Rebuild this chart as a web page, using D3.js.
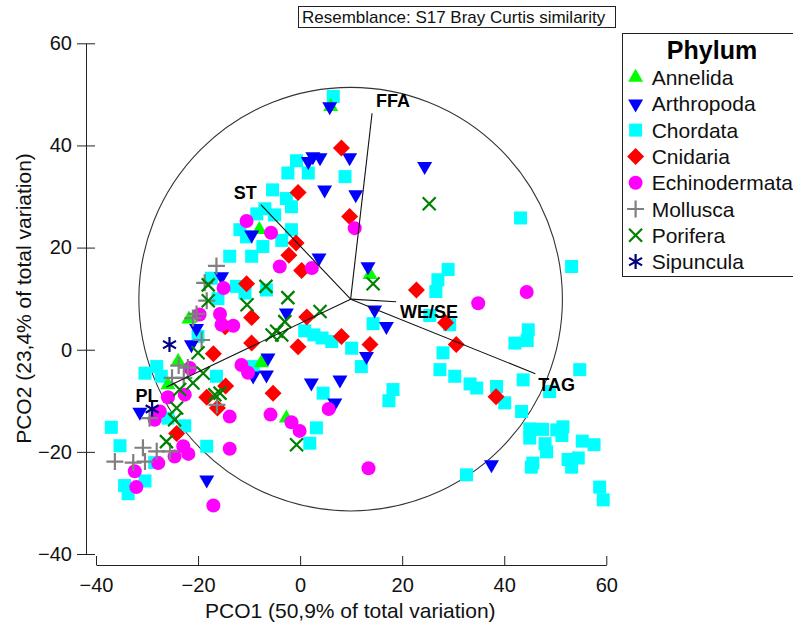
<!DOCTYPE html>
<html>
<head>
<meta charset="utf-8">
<script src="https://cdn.jsdelivr.net/npm/d3@7"></script>
<style>
  html, body { margin: 0; padding: 0; background: #fff; }
  svg { display: block; font-family: "Liberation Sans", Arial, sans-serif; }
</style>
</head>
<body>
<svg id="chart" width="793" height="626"></svg>
<script>
// ---------------- DATA ----------------
const titleText = "Resemblance: S17 Bray Curtis similarity";
const xTitle = "PCO1 (50,9% of total variation)";
const yTitle = "PCO2 (23,4% of total variation)";
const xTicks = [-40, -20, 0, 20, 40, 60];
const yTicks = [-40, -20, 0, 20, 40, 60];
const phyla = ["Annelida", "Arthropoda", "Chordata", "Cnidaria", "Echinodermata", "Mollusca", "Porifera", "Sipuncula"];

const annelida = [[6.0,47.6],[-8.0,23.5],[13.7,14.7],[-23.9,-2.3],[-7.6,-2.6],[-2.7,-13.4],[-25.9,-6.9],[-21.8,6.0]];
const arthropoda = [[5.8,47.6],[1.6,36.9],[2.5,37.8],[3.9,37.6],[9.7,37.6],[4.8,31.3],[10.9,30.4],[3.7,18.0],
  [13.3,16.3],[24.4,35.9],[14.6,7.8],[16.9,4.6],[-2.7,7.2],[13.0,-1.3],[-6.3,-1.6],[-6.6,-4.9],[2.2,-6.5],
  [7.8,-5.9],[6.8,-10.4],[37.5,-22.5],[-18.3,-25.5],[-31.4,-12.2],[-21.3,1.0],[-20.3,4.2],[-15.4,14.3],
  [-9.5,22.5],[-9.2,-5.1]];
const chordata = [[6.5,49.6],[-0.7,37.0],[-2.4,34.6],[1.6,34.6],[8.8,33.9],[-5.4,31.3],[-2.7,29.6],[-1.7,28.0],
  [-6.9,27.6],[-5.0,26.4],[-8.5,26.6],[-11.8,23.5],[-10.5,22.1],[-1.7,23.5],[-3.6,21.4],[-7.3,20.2],[-9.5,18.3],
  [-13.8,18.3],[-17.4,14.0],[-12.5,12.4],[-10.8,11.1],[-6.6,11.7],[-16.1,10.0],
  [0.9,3.7],[2.7,2.9],[4.3,2.3],[6.2,1.6],[10.1,0.3],[12.0,-3.3],[14.3,5.1],[4.5,-8.5],[3.2,-15.3],[1.9,-18.3],
  [18.2,-7.8],[17.4,-10.0],[-9.2,-3.3],[-16.4,-5.2],[-18.3,-18.9],[-22.6,-14.9],[-20.0,2.6],[-25.9,-13.4],
  [-30.4,-4.6],[-28.1,-3.3],[-27.2,-5.2],[-37.0,-15.2],[-35.3,-18.8],[-34.4,-26.6],[-33.7,-28.2],[-30.4,-25.7],[-28.5,-22.1],
  [43.2,25.8],[53.2,16.3],[29.0,15.7],[27.0,13.7],[26.6,11.4],[25.4,6.7],[29.3,4.9],[28.0,-0.6],[27.4,-3.9],
  [30.3,-5.2],[33.3,-6.7],[34.6,-7.5],[38.5,-7.2],[40.1,-10.4],[43.4,-12.1],[44.7,3.9],[42.1,1.3],[44.5,1.8],
  [43.7,-5.9],[54.8,-3.9],[48.9,-8.2],[45.0,-15.5],[47.5,-15.6],[45.0,-17.3],[48.0,-18.4],[50.3,-15.7],[51.5,-15.1],
  [51.3,-16.8],[48.3,-20.0],[45.6,-22.2],[45.3,-23.0],[52.5,-21.5],[54.5,-21.2],[53.2,-23.0],[55.3,-17.9],
  [57.6,-18.6],[58.7,-26.9],[59.4,-29.4],[32.6,-24.5]];
const cnidaria = [[8.1,39.5],[-0.4,30.8],[9.7,26.1],[-0.8,20.9],[-2.2,18.5],[0.3,15.5],[-10.5,12.9],[-9.5,6.3],
  [1.3,6.4],[-14.7,4.5],[-17.0,-0.8],[-9.5,1.3],[-0.4,0.6],[8.1,2.6],[13.7,1.0],[-5.3,-8.5],[-14.6,-7.1],
  [-18.3,-9.3],[-16.2,-11.4],[-24.2,-16.4],[22.8,11.7],[28.5,5.3],[30.6,1.0],[38.4,-9.2]];
const echinodermata = [[10.7,23.8],[-10.5,25.2],[-5.7,22.9],[-4.0,16.3],[2.3,16.0],[-15.0,12.1],[-15.7,7.0],
  [-19.7,6.9],[-13.1,4.7],[-15.4,4.9],[34.9,9.1],[44.4,11.3],[-11.5,-3.0],[-10.2,-4.5],[-21.6,-3.6],[-22.6,-8.8],
  [-25.9,-9.3],[-27.5,-12.1],[-28.5,-13.7],[-13.8,-13.1],[-13.8,-19.4],[-22.9,-18.9],[-21.9,-20.4],[-24.6,-20.9],
  [-27.8,-22.2],[-32.4,-23.8],[-32.1,-26.9],[-17.0,-30.5],[-5.8,-12.7],[-1.7,-14.2],[-0.1,-15.9],[5.6,-11.6],[13.4,-23.2]];
const mollusca = [[-16.4,16.4],[-18.7,13.1],[-18.3,9.6],[-20.3,7.0],[-21.0,6.2],[-19.3,1.9],[-23.8,-3.1],
  [-22.0,-3.5],[-25.1,-5.5],[-22.8,-5.5],[-16.3,-10.8],[-29.5,-13.4],[-30.8,-19.2],[-28.1,-19.9],[-25.5,-19.9],
  [-36.3,-21.9],[-32.7,-22.1],[-30.4,-21.9]];
const porifera = [[25.3,28.6],[14.3,12.9],[-18.0,12.7],[-6.7,12.4],[-2.4,10.2],[-18.0,9.6],[-10.4,8.8],[3.9,7.5],
  [-3.0,5.5],[-5.5,2.9],[-4.6,3.6],[-3.6,2.9],[-20.0,-0.6],[-19.0,-4.6],[-21.0,-6.5],[-23.6,-7.8],[-16.7,-8.8],
  [-15.7,-8.5],[-24.2,-11.4],[-24.6,-13.7],[-26.2,-18.0],[-0.7,-18.6]];
const sipuncula = [[-25.6,1.0],[-29.0,-11.6]];

const vectorNames = ["FFA", "ST", "WE/SE", "TAG", "PL"];
const vectorX = [14.1, -7.7, 18.8, 46.1, -26.2];
const vectorY = [46.3, 28.4, 9.4, -4.7, -7.3];
const circleCenter = [9.9, 9.9];
const circleRadius = 41.5;

// ---------------- STYLE ----------------
const colors = {
  Annelida: "#00ff00", Arthropoda: "#0000ff", Chordata: "#00ffff", Cnidaria: "#ff0000",
  Echinodermata: "#ff00ff", Mollusca: "#808080", Porifera: "#008000", Sipuncula: "#000080"
};
const shapes = {
  Annelida: "triUp", Arthropoda: "triDown", Chordata: "square", Cnidaria: "diamond",
  Echinodermata: "circle", Mollusca: "plus", Porifera: "cross", Sipuncula: "star"
};
const labelStyle = {
  "FFA": {dx: 4, dy: -6, anchor: "start"},
  "ST": {dx: -4, dy: -6, anchor: "end"},
  "WE/SE": {dx: 4, dy: 16, anchor: "start"},
  "TAG": {dx: 3, dy: 17, anchor: "start"},
  "PL": {dx: -8, dy: 15, anchor: "end"}
};

const svg = d3.select("#chart");
const x = d3.scaleLinear().domain([-40, 60]).range([96, 606.3]);
const y = d3.scaleLinear().domain([-40, 60]).range([554, 43.3]);

function symbolPath(shape) {
  switch (shape) {
    case "triUp": { const s = 15, h = 13; return `M0,${-h*2/3}L${s/2},${h/3}L${-s/2},${h/3}Z`; }
    case "triDown": { const s = 15, h = 13; return `M0,${h*2/3}L${s/2},${-h/3}L${-s/2},${-h/3}Z`; }
    case "square": { const s = 13; return `M${-s/2},${-s/2}h${s}v${s}h${-s}Z`; }
    case "diamond": { const r = 8.5; return `M0,${-r}L${r},0L0,${r}L${-r},0Z`; }
    case "circle": { const r = 7; return `M${r},0A${r},${r} 0 1,1 ${-r},0A${r},${r} 0 1,1 ${r},0Z`; }
    case "plus": { const r = 8.5; return `M${-r},0H${r}M0,${-r}V${r}`; }
    case "cross": { const r = 6.5; return `M${-r},${-r}L${r},${r}M${-r},${r}L${r},${-r}`; }
    case "star": { const r = 7.5, a = r*0.866, b = r*0.5; return `M0,${-r}V${r}M${-a},${-b}L${a},${b}M${-a},${b}L${a},${-b}`; }
  }
}
function isLine(shape) { return shape === "plus" || shape === "cross" || shape === "star"; }
function styleSym(sel, name) {
  const sh = shapes[name];
  sel.attr("d", symbolPath(sh));
  if (isLine(sh)) sel.attr("fill", "none").attr("stroke", colors[name]).attr("stroke-width", 2.2);
  else sel.attr("fill", colors[name]).attr("stroke", "none");
}

// ---------------- TITLE BOX ----------------
svg.append("rect").attr("x", 298.5).attr("y", 6.5).attr("width", 317).attr("height", 21)
  .attr("fill", "#fff").attr("stroke", "#222").attr("stroke-width", 1);
svg.append("text").attr("x", 302).attr("y", 23).attr("font-size", 17).attr("fill", "#111").text(titleText);

// ---------------- AXES ----------------
const yAxis = d3.axisLeft(y).tickValues(yTicks).tickSizeInner(9).tickSizeOuter(0).tickPadding(5).tickFormat(d3.format("d"));
const gy = svg.append("g").attr("transform", "translate(86,0)").call(yAxis);
gy.selectAll(".tick line").attr("x1", 9);
gy.selectAll("text").attr("font-size", 20).attr("font-family", "Liberation Sans, Arial, sans-serif").attr("fill", "#111");
gy.selectAll("path, line").attr("stroke", "#222");

const xAxis = d3.axisBottom(x).tickValues(xTicks).tickSizeInner(-9).tickSizeOuter(0).tickPadding(13).tickFormat(d3.format("d"));
const gx = svg.append("g").attr("transform", "translate(0,565)").call(xAxis);
gx.selectAll("text").attr("font-size", 20).attr("font-family", "Liberation Sans, Arial, sans-serif").attr("fill", "#111");
gx.selectAll("path, line").attr("stroke", "#222");

svg.append("text").attr("x", 350.3).attr("y", 618).attr("text-anchor", "middle")
  .attr("font-size", 21).attr("fill", "#111").text(xTitle);
svg.append("text").attr("transform", "translate(31,298.5) rotate(-90)").attr("text-anchor", "middle")
  .attr("font-size", 21).attr("fill", "#111").text(yTitle);

// ---------------- CIRCLE & VECTORS ----------------
const cx = x(circleCenter[0]), cy = y(circleCenter[1]);
const rPix = x(circleCenter[0] + circleRadius) - cx;
svg.append("circle").attr("cx", cx).attr("cy", cy).attr("r", rPix)
  .attr("fill", "none").attr("stroke", "#333").attr("stroke-width", 1.1);

// ---------------- POINTS ----------------
const seriesData = {
  Chordata: chordata, Annelida: annelida, Arthropoda: arthropoda, Cnidaria: cnidaria,
  Echinodermata: echinodermata, Mollusca: mollusca, Porifera: porifera, Sipuncula: sipuncula
};
const drawOrder = ["Chordata", "Annelida", "Arthropoda", "Cnidaria", "Echinodermata", "Mollusca", "Porifera", "Sipuncula"];
const gp = svg.append("g");
drawOrder.forEach(name => {
  gp.selectAll(null).data(seriesData[name]).enter().append("path")
    .attr("transform", d => `translate(${x(d[0])},${y(d[1])})`)
    .call(styleSym, name);
});

// vectors on top
const gv = svg.append("g");
vectorNames.forEach((n, i) => {
  const ex = x(vectorX[i]), ey = y(vectorY[i]);
  gv.append("line").attr("x1", cx).attr("y1", cy).attr("x2", ex).attr("y2", ey)
    .attr("stroke", "#111").attr("stroke-width", 1.1);
  const st = labelStyle[n];
  gv.append("text").attr("x", ex + st.dx).attr("y", ey + st.dy).attr("text-anchor", st.anchor)
    .attr("font-size", 18).attr("font-weight", "bold").attr("fill", "#000").text(n);
});

// ---------------- LEGEND ----------------
svg.append("rect").attr("x", 622.5).attr("y", 33.5).attr("width", 200).attr("height", 243)
  .attr("fill", "#fff").attr("stroke", "#222").attr("stroke-width", 1);
svg.append("text").attr("x", 712).attr("y", 58.5).attr("text-anchor", "middle")
  .attr("font-size", 25).attr("font-weight", "bold").attr("fill", "#000").text("Phylum");
const lg = svg.append("g");
phyla.forEach((name, i) => {
  const base = 85 + i * 26.3;
  lg.append("path").attr("transform", `translate(635.6,${base - 7.5})`).call(styleSym, name);
  lg.append("text").attr("x", 651.7).attr("y", base).attr("font-size", 21).attr("fill", "#111").text(name);
});
</script>
</body>
</html>
